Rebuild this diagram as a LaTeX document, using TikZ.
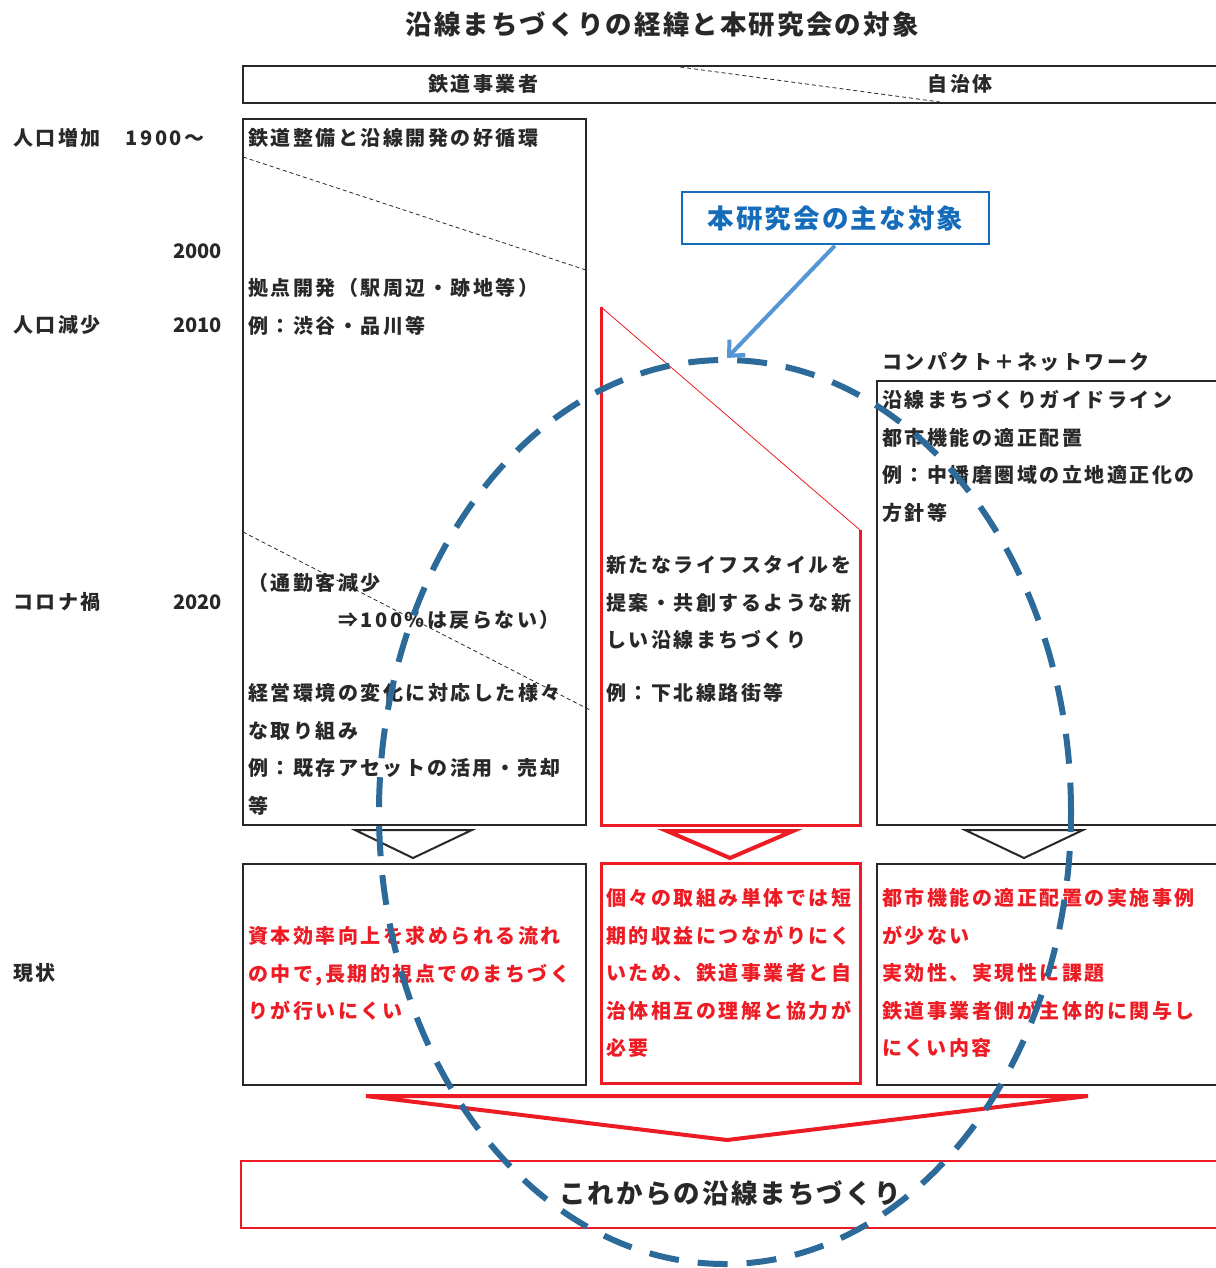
\documentclass[tikz,border=0pt]{standalone}
\usepackage{fontspec}
\usetikzlibrary{arrows.meta}
\setmainfont{Noto Sans CJK JP}
\newfontfamily\jp[LetterSpace=12.5]{Noto Sans CJK JP}
\newfontfamily\jpd{Noto Sans CJK JP}
\newfontfamily\jpb[LetterSpace=8]{Noto Sans CJK JP}
\definecolor{myred}{RGB}{237,28,36}
\definecolor{ink}{RGB}{40,40,40}
\definecolor{ellblue}{RGB}{44,106,154}
\definecolor{arrowblue}{RGB}{84,150,214}
\definecolor{boxblue}{RGB}{20,108,186}
\begin{document}
\begin{tikzpicture}[x=1pt,y=-1pt,
  txt/.style={anchor=base west, inner sep=0pt, align=left, text=ink,
    font=\jp\bfseries\fontsize{20}{37.5}\selectfont},
  rtxt/.style={txt, text=myred},
  ctxt/.style={txt, anchor=center},
  etxt/.style={txt, anchor=base east, font=\jpd\bfseries\fontsize{20}{37.5}\selectfont},
  bigtxt/.style={anchor=center, inner sep=0pt, text=ink,
    font=\jpb\bfseries\fontsize{26.5}{30}\selectfont},
  bbox/.style={draw=ink, line width=2pt},
  rbox/.style={draw=myred, line width=3pt},
  thindash/.style={draw=ink, line width=0.8pt, dash pattern=on 4pt off 3pt},
  tri/.style={draw=ink, line width=2pt, line join=miter},
  rtri/.style={draw=myred, line width=4pt, line join=miter},
]
\useasboundingbox (0,0) rectangle (1215,1268);
\fill[white] (0,0) rectangle (1215,1268);

% title
\node[bigtxt] (title) at (662,24) {沿線まちづくりの経緯と本研究会の対象};

% header
\draw[bbox] (243,66) rectangle (1222,103);
\draw[thindash] (680,67) -- (940,102);
\node[ctxt] (hrail) at (483,84) {鉄道事業者};
\node[ctxt] (hgov) at (960,84) {自治体};

% left time labels
\node[txt] (l1) at (13,145.5) {人口増加　1900〜};
\node[etxt] (l2) at (222,258.5) {2000};
\node[txt] (l3) at (13,332.5) {人口減少};
\node[etxt] (l4) at (222,332.5) {2010};
\node[txt] (l5) at (13,609.5) {コロナ禍};
\node[etxt] (l6) at (222,609.5) {2020};
\node[txt] (l7) at (13,980.5) {現状};

% box 1 (rail operators)
\draw[bbox] (243,119) rectangle (586,825);
\draw[thindash] (243,157) -- (586,270);
\draw[thindash] (243,532) -- (590,710);
\node[txt] (b1a) at (248,145.5) {鉄道整備と沿線開発の好循環};
\node[txt] (b1b) at (248,333) {拠点開発（駅周辺・跡地等）\\例：渋谷・品川等};
\node[txt] (b1c) at (248,590.5) {（通勤客減少};
\node[txt] (b1d) at (338,627.5) {⇒100％は戻らない）};
\node[txt] (b1e) at (248,813) {経営環境の変化に対応した様々\\な取り組み\\例：既存アセットの活用・売却\\等};

% box 2 (red pentagon)
\draw[myred, line width=0.8pt] (601,307) -- (860,530);
\draw[rbox] (601,307) -- (601,825) -- (860,825) -- (860,530);
\node[txt] (b2a) at (606,647.5) {新たなライフスタイルを\\提案・共創するような新\\しい沿線まちづくり};
\node[txt] (b2b) at (606,700.5) {例：下北線路街等};

% box 3 (local government)
\node[txt] (b3h) at (882,369.5) {コンパクト＋ネットワーク};
\draw[bbox] (877,381) rectangle (1222,825);
\node[txt] (b3a) at (882,520) {沿線まちづくりガイドライン\\都市機能の適正配置\\例：中播磨圏域の立地適正化の\\方針等};

% triangles
\draw[tri] (355,830) -- (472,830) -- (413,858) -- cycle;
\draw[rtri] (667,831) -- (793,831) -- (730,858) -- cycle;
\draw[tri] (965,830) -- (1083,830) -- (1024,858) -- cycle;

% lower boxes
\draw[bbox] (243,864) rectangle (586,1085);
\node[rtxt] (c1) at (248,1018.5) {資本効率向上を求められる流れ\\の中で,長期的視点でのまちづく\\りが行いにくい};
\draw[rbox] (601,863) rectangle (860,1083);
\node[rtxt] (c2) at (606,1055.5) {個々の取組み単体では短\\期的収益につながりにく\\いため、鉄道事業者と自\\治体相互の理解と協力が\\必要};
\draw[bbox] (877,864) rectangle (1222,1085);
\node[rtxt] (c3) at (882,1055.5) {都市機能の適正配置の実施事例\\が少ない\\実効性、実現性に課題\\鉄道事業者側が主体的に関与し\\にくい内容};

% big red triangle
\draw[rtri] (366,1096) -- (1088,1096) -- (727,1140) -- cycle;

% final box
\draw[myred, line width=2.5pt] (241,1161) rectangle (1225,1228);
\node[bigtxt] (future) at (730,1193) {これからの沿線まちづくり};

% target label and arrow
\node[draw=boxblue, line width=2pt, fill=white, minimum width=307pt, minimum height=52pt,
  inner sep=0pt, text=boxblue, font=\jpb\bfseries\fontsize{26.5}{30}\selectfont] (target) at (835.5,218) {本研究会の主な対象};
\coordinate (aim) at (727,358);
\draw[arrowblue, line width=4pt, -{Straight Barb[length=12pt,width=22pt,line width=4pt]}, shorten <=1pt] (target.south) -- (aim);

% dashed ellipse
\draw[ellblue, line width=6pt, dash pattern=on 30pt off 19pt, dash phase=10pt] (725,812) ellipse [x radius=346, y radius=452];
\end{tikzpicture}
\end{document}
